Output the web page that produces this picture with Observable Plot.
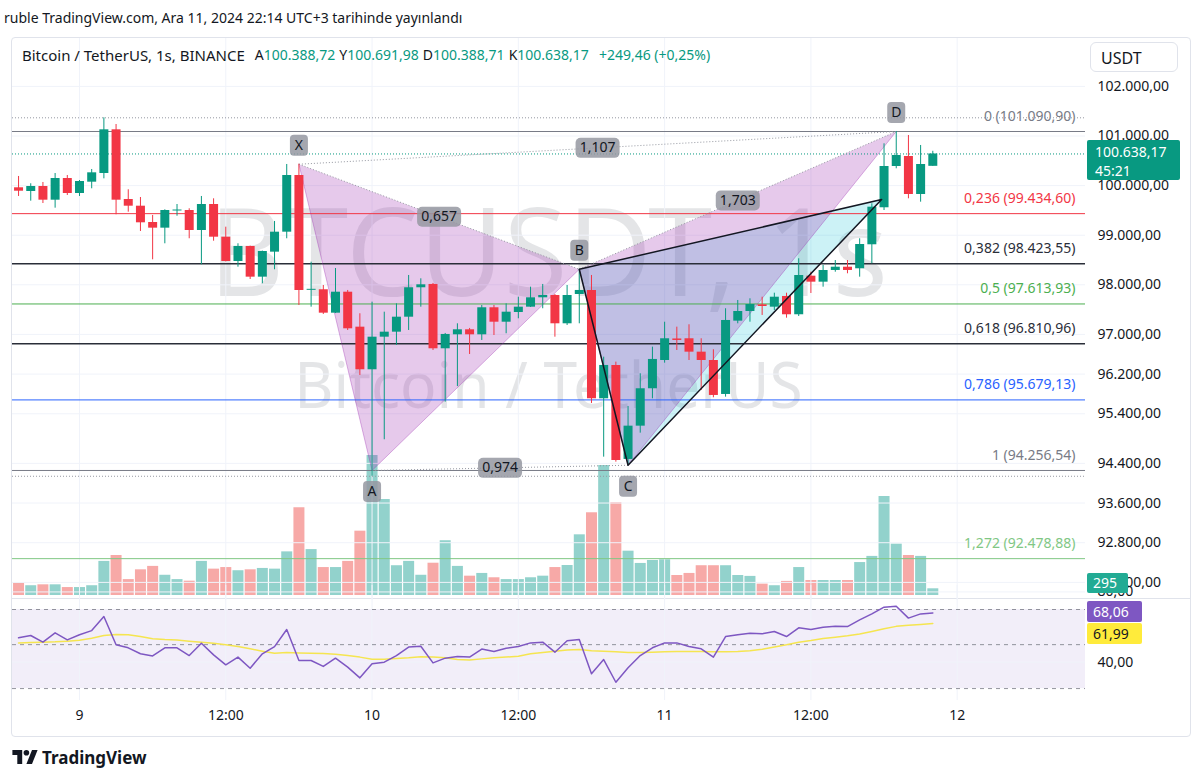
<!DOCTYPE html>
<html><head><meta charset="utf-8">
<script src="https://cdn.jsdelivr.net/npm/d3@7"></script>
<script src="https://cdn.jsdelivr.net/npm/@observablehq/plot@0.6"></script>
<style>
body{margin:0;background:#fff;font-family:"Noto Sans",sans-serif;color:#131722;}
#wrap{position:relative;width:1200px;height:781px;overflow:hidden;background:#fff;}
</style></head><body><div id="wrap"></div>
<script>
// ---------- DATA ----------
const openP = [99956,99881,99982,99706,100143,99841,100069,100244,101125,99720,99585,99256,99142,99492,99498,99095,99619,98960,98470,98773,98154,98658,99061,100204,97892,97900,97428,97851,97146,96287,96944,97045,97347,97940,98007,96710,96992,97093,96992,97537,97246,97442,97549,97738,97785,97214,97805,97886,95702,96374,94479,95150,95904,96474,96908,96912,96642,96474,95789,97267,97462,97597,97549,97765,97396,98174,98053,98289,98355,98323,98807,99553,100385,100587,99821,100388.72];
const highP = [100184,100037,100063,100244,100204,100103,100325,101367,101232,99916,99760,99398,99512,99619,99533,99781,99734,99162,98827,98780,98680,99277,100426,100431,98456,97986,98329,97886,97416,97650,97448,97617,98188,98121,98027,97019,97214,97120,97583,97583,97617,97750,97952,98007,97805,97986,98313,98188,96541,96441,95547,96206,96743,97246,97146,97194,96912,96690,97517,97684,97718,97750,97831,97831,98525,98254,98390,98490,98490,98928,99633,100843,101090.90,101010,100809,100691.98];
const lowP = [99781,99686,99639,99545,99801,99781,99936,100137,99412,99464,99075,98504,98827,99383,98928,98404,98879,98460,98355,98107,98021,98303,98928,97583,97549,97402,97420,97079,96172,94140,94876,96777,97079,97549,96676,95634,95950,96595,96878,96978,97013,97315,97543,97517,96944,97180,97214,95607,94525,94424,94362,95009,95702,96420,96676,96474,95870,95722,95735,97214,97246,97382,97482,97327,97361,97825,97952,98254,98222,98154,98424,99498,100339,99734,99666,100388.71];
const closeP = [99887,99982,99706,100143,99841,100083,100258,101125,99706,99585,99250,99142,99498,99504,99095,99619,98960,98470,98773,98154,98672,99061,100204,97886,97906,97428,97851,97113,96287,96944,97045,97347,97940,98000,96710,96999,97093,96992,97537,97246,97448,97549,97738,97785,97214,97785,97886,95702,96374,94458,95150,95904,96495,96912,96878,96642,96474,95769,97281,97462,97603,97563,97750,97396,98188,98053,98289,98355,98289,98813,99565,100385,100607,99821,100426,100638.17];
const volume = [540,430,470,470,350,350,430,1500,1760,700,1130,1280,890,700,630,1500,1160,1230,1090,1130,1190,1160,1920,3860,2020,1230,1230,1500,2830,6160,4220,1310,1500,890,1420,2410,1280,850,970,780,700,700,780,850,1230,1320,2670,3640,5720,4080,1950,1410,1540,1570,880,970,1310,1310,1310,880,840,500,430,620,1230,660,660,660,660,1450,1720,4360,2260,1760,1720,295];
const rsiVals = [53.9,55.2,51.4,56.7,52.7,55.6,58.0,66.0,49.9,48.2,44.8,43.6,48.2,48.2,43.8,50.8,44.2,38.5,42.9,36.6,44.8,48.9,58.6,41.0,41.0,37.6,42.3,37.2,31.1,39.1,40.0,43.8,48.6,49.1,39.6,42.3,43.2,42.9,47.5,46.1,48.0,48.9,51.0,51.4,45.7,52.2,52.9,33.4,41.5,28.6,36.8,43.8,48.2,51.0,51.0,48.9,47.6,42.9,54.6,55.6,56.5,56.2,57.5,54.6,59.6,58.6,59.9,60.5,60.3,64.1,67.5,71.3,71.9,65.1,67.5,68.06];
const rsiMaVals = [51.0,51.2,51.4,51.6,52.0,52.5,53.7,55.2,55.8,55.6,54.6,53.3,52.9,52.7,52.0,51.4,50.8,49.9,48.9,47.6,46.3,45.1,45.5,45.3,45.1,44.9,44.6,43.8,42.9,41.7,41.7,42.1,42.5,43.1,42.9,42.5,41.5,41.3,41.9,42.5,42.9,43.4,44.8,45.5,46.3,46.9,47.3,46.5,46.3,46.0,45.5,45.5,45.7,46.0,46.1,46.1,46.1,46.0,46.0,46.1,46.5,47.4,48.6,49.9,51.4,52.3,53.5,54.2,55.0,56.1,57.5,59.0,60.4,61.0,61.5,61.99];

const priceTicks = [102000,101000,100000,99000,98000,97000,96200,95400,94400,93600,92800,92000];
const rsiTicks = [80,40];
const rsiBands = [70,50,25];
const timeTickDates = ["2024-12-09T00:00Z","2024-12-09T12:00Z","2024-12-10T00:00Z","2024-12-10T12:00Z","2024-12-11T00:00Z","2024-12-11T12:00Z","2024-12-12T00:00Z"];
const timeTickLabels = ["9","12:00","10","12:00","11","12:00","12"];

const fibRatios = ["0","0,236","0,382","0,5","0,618","0,786","1","1,272"];
const fibPrices = [101090.90,99434.60,98423.55,97613.93,96810.96,95679.13,94256.54,92478.88];
const fibColors = ["#787b86","#f23645","#2a2e39","#4caf50","#2a2e39","#2962ff","#787b86","#81c784"];
const fibWidths = [1,1,1.4,1,1.4,1,1,1];

const patternNames = ["X","A","B","C","D"];
const patternTimes = ["2024-12-09T18:00Z","2024-12-10T00:00Z","2024-12-10T17:00Z","2024-12-10T21:00Z","2024-12-11T19:00Z"];
const patternPrices = [100431,94256.54,98313,94362,101090.90];
const ratioLabels = ["0,657","0,974","1,703","1,107"];
const ratioPairs = [[0,2],[1,3],[2,4],[0,4]];
const triangleExtraTime = "2024-12-11T17:48Z";
const triangleExtraPrice = 99720;

const symbolTitle = "Bitcoin / TetherUS, 1s, BINANCE";
const ohlcLetters = ["A","Y","D","K"];
const changeText = "+249,46 (+0,25%)";
const lastVolumeLabel = "295";
const countdown = "45:21";

// ---------- BUILD ----------
const up = "#089981", down = "#f23645";
const times = d3.utcHour.range(new Date(Date.UTC(2024,11,8,19)), new Date(Date.UTC(2024,11,11,23)));
const candles = times.map((t,i)=>({t,o:openP[i],h:highP[i],l:lowP[i],c:closeP[i],v:volume[i],rsi:rsiVals[i],ma:rsiMaVals[i]}));
const xDomain = [new Date(Date.UTC(2024,11,8,18,30,14)), new Date(Date.UTC(2024,11,12,10,31,34))];
const timeTicks = timeTickDates.map(s=>new Date(s));
const tickLabelMap = new Map(timeTicks.map((d,i)=>[+d,timeTickLabels[i]]));
const fmt = d3.formatLocale({decimal:",",thousands:".",grouping:[3],currency:["",""]}).format(",.2f");
const fibs = fibRatios.map((r,i)=>({r,p:fibPrices[i],c:fibColors[i],w:fibWidths[i]}));
const pts = patternNames.map((k,i)=>({k,t:new Date(patternTimes[i]),p:patternPrices[i]}));
const E = {t:new Date(triangleExtraTime),p:triangleExtraPrice};
const [X,A,B,C,D] = pts;
const links = ratioPairs.map(([a,b],i)=>({t1:pts[a].t,p1:pts[a].p,t2:pts[b].t,p2:pts[b].p,
  tm:new Date((+pts[a].t + +pts[b].t)/2), pm:(pts[a].p+pts[b].p)/2, label:ratioLabels[i]}));

function roundRect(w,h,r){return {draw(ctx){const x0=-w/2,y0=-h/2,x1=w/2,y1=h/2;
  ctx.moveTo(x0+r,y0);ctx.lineTo(x1-r,y0);ctx.arcTo(x1,y0,x1,y0+r,r);ctx.lineTo(x1,y1-r);ctx.arcTo(x1,y1,x1-r,y1,r);
  ctx.lineTo(x0+r,y1);ctx.arcTo(x0,y1,x0,y1-r,r);ctx.lineTo(x0,y0+r);ctx.arcTo(x0,y0,x0+r,y0,r);ctx.closePath();}};}
const letterBox = roundRect(18,21,4), ratioBox = roundRect(44,20,5);
const font = '"Noto Sans", sans-serif';
const colorUp = d=>d.c>=d.o?up:down;

const wrap = document.getElementById("wrap");
function place(el, css){el.style.cssText="position:absolute;"+css;wrap.appendChild(el);return el;}
function div(text, css){const d=document.createElement("div");d.textContent=text;return place(d,css);}

// watermark
div("BTCUSDT, 1s","left:0;width:1097px;top:187px;text-align:center;font-size:123px;line-height:123px;color:rgba(120,123,134,0.2);white-space:nowrap;transform:scaleX(0.94);z-index:0;");
div("Bitcoin / TetherUS","left:0;width:1097px;top:352px;text-align:center;font-size:63px;line-height:63px;color:rgba(120,123,134,0.2);white-space:nowrap;transform:scaleX(0.96);z-index:0;");

// frame
place(document.createElement("div"),"left:11px;top:37px;width:1178px;height:698px;border:1px solid #e0e3eb;border-radius:4px;z-index:0;");
place(document.createElement("div"),"left:12px;top:598px;width:1178px;height:1px;background:#e0e3eb;z-index:0;");

// volume pane
const volPlot = Plot.plot({
  width:1200,height:562,marginLeft:12,marginRight:115,marginTop:0,marginBottom:5,
  style:{background:"transparent",overflow:"visible"},
  x:{type:"utc",domain:xDomain,axis:null},
  y:{domain:[0,24508],axis:null},
  color:{type:"identity"},
  marks:[
    Plot.ruleX(candles,{x:"t",y1:0,y2:"v",stroke:d=>d.c>=d.o?"#26a69a":"#ef5350",strokeOpacity:0.5,strokeWidth:11})
  ]
});
volPlot.style.position="absolute";volPlot.style.left="0px";volPlot.style.top="38px";volPlot.style.zIndex=1;
wrap.appendChild(volPlot);

// price pane
const main = Plot.plot({
  width:1200,height:562,marginLeft:12,marginRight:115,marginTop:0,marginBottom:0,
  style:{background:"transparent",fontFamily:font,fontSize:"14px",color:"#131722",overflow:"visible"},
  x:{type:"utc",domain:xDomain,axis:null},
  y:{domain:[91635,102966]},
  color:{type:"identity"},
  marks:[
    Plot.ruleY(priceTicks,{stroke:"#f0f3fa"}),
    Plot.ruleX(timeTicks,{stroke:"#f0f3fa"}),
    Plot.line([B,C,E,B],{x:"t",y:"p",fill:"#00bcd4",fillOpacity:0.2,stroke:"none"}),
    Plot.line([X,A,B,X],{x:"t",y:"p",fill:"#9c27b0",fillOpacity:0.25,stroke:"none"}),
    Plot.line([B,C,D,B],{x:"t",y:"p",fill:"#9c27b0",fillOpacity:0.25,stroke:"none"}),
    Plot.ruleY(fibs,{y:"p",stroke:"c",strokeWidth:"w"}),
    Plot.text(fibs,{y:"p",text:d=>`${d.r} (${fmt(d.p)})`,fill:"c",frameAnchor:"right",textAnchor:"end",dx:-10,dy:-15,fontSize:14}),
    Plot.ruleY([d3.max(highP)],{stroke:"#9598a1",strokeDasharray:"1,2"}),
    Plot.ruleY([d3.min(lowP)],{stroke:"#9598a1",strokeDasharray:"1,2"}),
    Plot.ruleY([closeP[closeP.length-1]],{stroke:up,strokeDasharray:"1,2"}),
    Plot.line(pts,{x:"t",y:"p",stroke:"#9c27b0",strokeOpacity:0.35,strokeWidth:1}),
    Plot.link(links,{x1:"t1",y1:"p1",x2:"t2",y2:"p2",stroke:"#9598a1",strokeDasharray:"1,2",strokeWidth:1}),
    Plot.ruleX(candles,{x:"t",y1:"l",y2:"h",stroke:colorUp,strokeWidth:1}),
    Plot.ruleX(candles,{x:"t",y1:d=>Math.abs(d.o-d.c)<20?(d.o+d.c)/2-10:d.o,y2:d=>Math.abs(d.o-d.c)<20?(d.o+d.c)/2+10:d.c,stroke:colorUp,strokeWidth:9}),
    Plot.line([B,C,E,B],{x:"t",y:"p",stroke:"#131722",strokeWidth:1.5}),
    Plot.dot(links,{x:"tm",y:"pm",symbol:ratioBox,fill:"#9598a1",fillOpacity:0.85,stroke:"none"}),
    Plot.text(links,{x:"tm",y:"pm",text:"label",fill:"#131722",fontSize:14}),
    Plot.dot([X,B,D],{x:"t",y:"p",dy:-19,symbol:letterBox,fill:"#9598a1",fillOpacity:0.85,stroke:"none"}),
    Plot.text([X,B,D],{x:"t",y:"p",dy:-19,text:"k",fill:"#131722",fontSize:14}),
    Plot.dot([A,C],{x:"t",y:"p",dy:21,symbol:letterBox,fill:"#9598a1",fillOpacity:0.85,stroke:"none"}),
    Plot.text([A,C],{x:"t",y:"p",dy:21,text:"k",fill:"#131722",fontSize:14}),
    Plot.axisY(priceTicks,{anchor:"right",tickSize:0,tickPadding:12,tickFormat:fmt,label:null,fontSize:14})
  ]
});
main.style.position="absolute";main.style.left="0px";main.style.top="38px";main.style.zIndex=2;
wrap.appendChild(main);

// RSI pane + time axis
const rsiPlot = Plot.plot({
  width:1200,height:150,marginLeft:12,marginRight:115,marginTop:0,marginBottom:35,
  style:{background:"transparent",fontFamily:font,fontSize:"14px",color:"#131722",overflow:"visible"},
  x:{type:"utc",domain:xDomain},
  y:{domain:[18.21,83.66]},
  marks:[
    Plot.rect([{lo:d3.min(rsiBands),hi:d3.max(rsiBands)}],{y1:"lo",y2:"hi",fill:"#7e57c2",fillOpacity:0.1}),
    Plot.ruleY(rsiTicks,{stroke:"#f0f3fa"}),
    Plot.ruleX(timeTicks,{stroke:"#f0f3fa",y1:18.21,y2:83.66}),
    Plot.ruleY(rsiBands,{stroke:"#787b86",strokeDasharray:"4,4",strokeOpacity:0.8}),
    Plot.line(candles,{x:"t",y:"ma",stroke:"#f5e550",strokeWidth:1.5}),
    Plot.line(candles,{x:"t",y:"rsi",stroke:"#7e57c2",strokeWidth:1.5}),
    Plot.axisY(rsiTicks,{anchor:"right",tickSize:0,tickPadding:12,tickFormat:fmt,label:null,fontSize:14}),
    Plot.axisX(timeTicks,{anchor:"bottom",tickSize:0,tickPadding:10,tickFormat:d=>tickLabelMap.get(+d),label:null,fontSize:14})
  ]
});
rsiPlot.style.position="absolute";rsiPlot.style.left="0px";rsiPlot.style.top="585px";rsiPlot.style.zIndex=3;
wrap.appendChild(rsiPlot);

// header texts
div("ruble TradingView.com, Ara 11, 2024 22:14 UTC+3 tarihinde yayınlandı","left:4px;top:8px;font-size:14px;line-height:20px;white-space:nowrap;z-index:5;");
const last = candles[candles.length-1];
const legend = place(document.createElement("div"),"left:22px;top:45px;font-size:14px;line-height:20px;white-space:nowrap;z-index:5;display:flex;");
const nameSpan = document.createElement("span"); nameSpan.textContent = symbolTitle; nameSpan.style.cssText="font-size:15px;margin-right:10px;"; legend.appendChild(nameSpan);
[last.o,last.h,last.l,last.c].forEach((v,i)=>{
  const s=document.createElement("span"); s.style.marginRight="4px";
  s.innerHTML = ohlcLetters[i]+`<span style="color:${up}">${fmt(v)}</span>`; legend.appendChild(s);
});
const chSpan=document.createElement("span"); chSpan.textContent=changeText; chSpan.style.cssText="color:"+up+";margin-left:6px;"; legend.appendChild(chSpan);

// axis boxes
div("USDT","left:1090px;top:42px;width:88px;height:30px;border:1px solid #e0e3eb;border-radius:6px;font-size:16px;line-height:30px;padding-left:10px;box-sizing:border-box;background:#fff;z-index:5;");
const yMain = main.scale("y"), yVol = volPlot.scale("y"), yRsi = rsiPlot.scale("y");
const py = 38 + yMain.apply(last.c);
const pbox = div("","left:1087px;top:"+(py-13)+"px;width:93px;height:40px;background:"+up+";color:#fff;font-size:14px;line-height:19px;padding:2px 0 0 8px;box-sizing:border-box;border-radius:2px;z-index:5;");
pbox.innerHTML = fmt(last.c)+"<br>"+countdown;
const vy = 38 + yVol.apply(last.v) - 5;
div(lastVolumeLabel,"left:1087px;top:"+(vy-10)+"px;width:41px;height:20px;background:#22ab94;color:#fff;font-size:14px;line-height:20px;padding-left:6px;box-sizing:border-box;border-radius:2px;z-index:5;");
const ry = 585 + yRsi.apply(last.rsi);
div(fmt(last.rsi),"left:1087px;top:"+(ry-11)+"px;width:55px;height:21px;background:#7e57c2;color:#fff;font-size:14px;line-height:21px;padding-left:6px;box-sizing:border-box;border-radius:2px;z-index:5;");
div(fmt(last.ma),"left:1087px;top:"+(ry+11)+"px;width:55px;height:21px;background:#ffeb3b;color:#131722;font-size:14px;line-height:21px;padding-left:6px;box-sizing:border-box;border-radius:2px;z-index:5;");

// footer logo
const logo = place(document.createElement("div"),"left:12px;top:746px;height:22px;display:flex;align-items:center;z-index:5;");
logo.innerHTML = `<svg width="26" height="14" viewBox="0 0 36 20"><path d="M0 0h14v20H7V7H0z" fill="#131722"/><circle cx="20" cy="4" r="4" fill="#131722"/><path d="M28 0h8l-8 20h-8z" fill="#131722"/></svg><span style="font-size:17px;font-weight:700;margin-left:4px;color:#131722;">TradingView</span>`;
</script></body></html>
